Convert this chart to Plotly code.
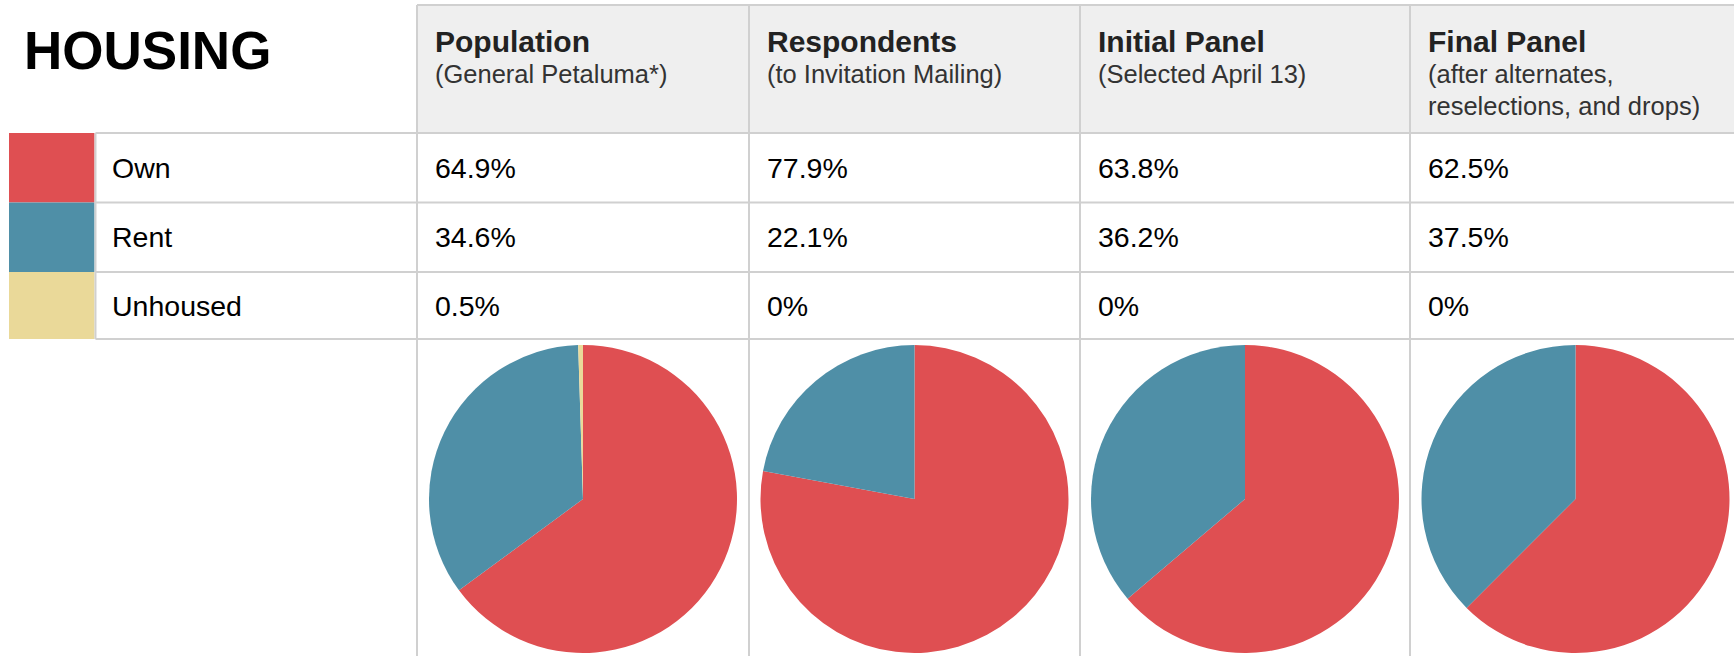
import plotly.graph_objects as go

# ---- data ----
title_text = "HOUSING"
categories = ["Own", "Rent", "Unhoused"]
columns = ["Population", "Respondents", "Initial Panel", "Final Panel"]
subtitles = [
    "(General Petaluma*)",
    "(to Invitation Mailing)",
    "(Selected April 13)",
    "(after alternates,<br>reselections, and drops)",
]
own = [64.9, 77.9, 63.8, 62.5]
rent = [34.6, 22.1, 36.2, 37.5]
unhoused = [0.5, 0, 0, 0]

# ---- styling / geometry (pixels) ----
colors = ["#DF4F52", "#4F8FA7", "#EAD999"]
W, H = 1734, 656
col_edges = [417, 749, 1080, 1410, 1741]
row_edges = [133, 202.5, 272, 339]
header_top = 5
label_left = 95.5
swatch_x = (9, 94.5)
pie_cy = 499
pie_r = 154
grid_color = "#D0D0D0"
header_bg = "#EFEFEF"
font_family = "Liberation Sans, Arial, sans-serif"

series = [own, rent, unhoused]

fig = go.Figure()

# Pies, one per column
for i in range(len(columns)):
    cx = (col_edges[i] + col_edges[i + 1]) / 2
    fig.add_trace(go.Pie(
        labels=categories,
        values=[s[i] for s in series],
        marker=dict(colors=colors, line=dict(width=0)),
        sort=False,
        direction="clockwise",
        rotation=0,
        textinfo="none",
        hoverinfo="label+percent",
        showlegend=False,
        domain=dict(
            x=[(cx - pie_r) / W, (cx + pie_r) / W],
            y=[1 - (pie_cy + pie_r) / H, 1 - (pie_cy - pie_r) / H],
        ),
    ))

shapes = []
# header background
shapes.append(dict(type="rect", xref="x", yref="y", x0=col_edges[0], x1=W,
                   y0=header_top, y1=row_edges[0], fillcolor=header_bg,
                   line=dict(width=0), layer="below"))
# colour swatches
for k, c in enumerate(colors):
    shapes.append(dict(type="rect", xref="x", yref="y", x0=swatch_x[0], x1=swatch_x[1],
                       y0=row_edges[k], y1=row_edges[k + 1], fillcolor=c,
                       line=dict(width=0), layer="below"))
# horizontal grid lines
shapes.append(dict(type="line", xref="x", yref="y", x0=col_edges[0], x1=W,
                   y0=header_top, y1=header_top, line=dict(color=grid_color, width=2)))
for y in row_edges:
    shapes.append(dict(type="line", xref="x", yref="y", x0=label_left, x1=W,
                       y0=y, y1=y, line=dict(color=grid_color, width=2)))
# vertical grid lines
shapes.append(dict(type="line", xref="x", yref="y", x0=label_left, x1=label_left,
                   y0=row_edges[0], y1=row_edges[-1], line=dict(color=grid_color, width=2)))
for x in col_edges[:-1]:
    shapes.append(dict(type="line", xref="x", yref="y", x0=x, x1=x,
                       y0=header_top, y1=H, line=dict(color=grid_color, width=2)))

annotations = []
# big title
annotations.append(dict(text="<b>%s</b>" % title_text, x=22, y=50, xref="x", yref="y",
                        xanchor="left", yanchor="middle", showarrow=False,
                        font=dict(family=font_family, size=53, color="#000000")))
# column headers
for i, (name, sub) in enumerate(zip(columns, subtitles)):
    x0 = col_edges[i] + 16
    annotations.append(dict(text="<b>%s</b>" % name, x=x0, y=41, xref="x", yref="y",
                            xanchor="left", yanchor="middle", showarrow=False,
                            font=dict(family=font_family, size=30, color="#222222")))
    for j, line in enumerate(sub.split("<br>")):
        annotations.append(dict(text=line, x=x0, y=74 + 32 * j, xref="x", yref="y",
                                xanchor="left", yanchor="middle", showarrow=False,
                                font=dict(family=font_family, size=25.5, color="#333333")))
# row labels and values
for k, cat in enumerate(categories):
    yc = (row_edges[k] + row_edges[k + 1]) / 2
    annotations.append(dict(text=cat, x=label_left + 14, y=yc, xref="x", yref="y",
                            xanchor="left", yanchor="middle", showarrow=False,
                            font=dict(family=font_family, size=28.5, color="#000000")))
    for i in range(len(columns)):
        v = series[k][i]
        annotations.append(dict(text="%g%%" % v, x=col_edges[i] + 16, y=yc,
                                xref="x", yref="y", xanchor="left", yanchor="middle",
                                showarrow=False,
                                font=dict(family=font_family, size=28.5, color="#000000")))

fig.update_layout(
    width=W, height=H,
    margin=dict(l=0, r=0, t=0, b=0),
    paper_bgcolor="white", plot_bgcolor="white",
    xaxis=dict(range=[0, W], visible=False, fixedrange=True),
    yaxis=dict(range=[H, 0], visible=False, fixedrange=True),
    shapes=shapes, annotations=annotations,
)

fig.write_html("out.html")
